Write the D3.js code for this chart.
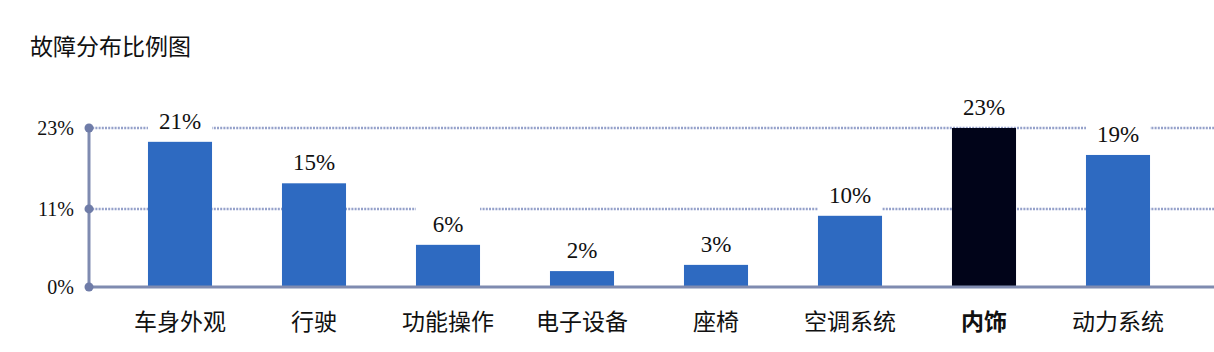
<!DOCTYPE html>
<html>
<head>
<meta charset="utf-8">
<script src="https://cdn.jsdelivr.net/npm/d3@7"></script>
<style>
  body { margin: 0; background: #fff; }
  text { font-family: "Liberation Serif", "Noto Sans CJK SC", serif; fill: #111; }
</style>
</head>
<body>
<svg id="chart"></svg>
<script>
const categories = ["车身外观", "行驶", "功能操作", "电子设备", "座椅", "空调系统", "内饰", "动力系统"];
const values = [21.0, 15.0, 6.1, 2.3, 3.2, 10.3, 23.0, 19.1];
const valueLabels = ["21%", "15%", "6%", "2%", "3%", "10%", "23%", "19%"];
const tickValues = [0, 11.3, 23.0];
const tickLabels = ["0%", "11%", "23%"];
const highlight = "内饰";

(function () {
    const width = 1214, height = 352;
    const svg = d3.select("#chart")
        .attr("width", width)
        .attr("height", height);

    const x = d3.scaleBand()
        .domain(categories)
        .range([113, 1185])
        .paddingInner(0.522)
        .paddingOuter(0.261);

    const y = d3.scaleLinear()
        .domain([0, 23])
        .range([287, 128]);

    const axisColor = "#7f8bb0";

    svg.append("text")
        .attr("x", 30)
        .attr("y", 55)
        .style("font-size", "23px")
        .text("故障分布比例图");

    // dotted grid lines
    svg.selectAll("line.grid")
        .data(tickValues.slice(1))
        .enter()
        .append("line")
        .attr("class", "grid")
        .attr("x1", 89)
        .attr("x2", width)
        .attr("y1", d => y(d))
        .attr("y2", d => y(d))
        .style("stroke", "#95a1ca")
        .style("stroke-width", 2.5)
        .style("stroke-dasharray", "2,1.2");

    // white boxes behind value labels cut the grid
    svg.selectAll("rect.lblbg")
        .data(categories)
        .enter()
        .append("rect")
        .attr("class", "lblbg")
        .attr("x", d => x(d))
        .attr("width", x.bandwidth())
        .attr("y", (d, i) => y(values[i]) - 38)
        .attr("height", 34)
        .style("fill", "#fff");

    svg.selectAll("rect.bar")
        .data(categories)
        .enter()
        .append("rect")
        .attr("class", "bar")
        .attr("x", d => x(d))
        .attr("width", x.bandwidth())
        .attr("y", (d, i) => y(values[i]))
        .attr("height", (d, i) => y(0) - y(values[i]))
        .style("fill", d => d === highlight ? "#010419" : "#2e6ac1");

    svg.selectAll("text.val")
        .data(categories)
        .enter()
        .append("text")
        .attr("class", "val")
        .attr("x", d => x(d) + x.bandwidth() / 2)
        .attr("y", (d, i) => y(values[i]) - 13)
        .attr("text-anchor", "middle")
        .style("font-size", "23px")
        .text((d, i) => valueLabels[i]);

    // axes
    svg.append("line")
        .attr("x1", 89).attr("x2", width)
        .attr("y1", y(0)).attr("y2", y(0))
        .style("stroke", axisColor)
        .style("stroke-width", 3);

    svg.append("line")
        .attr("x1", 89).attr("x2", 89)
        .attr("y1", y(23)).attr("y2", y(0))
        .style("stroke", axisColor)
        .style("stroke-width", 3);

    svg.selectAll("circle.tick")
        .data(tickValues)
        .enter()
        .append("circle")
        .attr("class", "tick")
        .attr("cx", 89)
        .attr("cy", d => y(d))
        .attr("r", 4.5)
        .style("fill", "#6f7ca8");

    svg.selectAll("text.ytick")
        .data(tickValues)
        .enter()
        .append("text")
        .attr("class", "ytick")
        .attr("x", 74)
        .attr("y", d => y(d) + 7)
        .attr("text-anchor", "end")
        .style("font-size", "20px")
        .text((d, i) => tickLabels[i]);

    svg.selectAll("text.cat")
        .data(categories)
        .enter()
        .append("text")
        .attr("class", "cat")
        .attr("x", d => x(d) + x.bandwidth() / 2)
        .attr("y", 330)
        .attr("text-anchor", "middle")
        .style("font-size", "23px")
        .style("font-weight", d => d === highlight ? "bold" : "normal")
        .text(d => d);
})();
</script>
</body>
</html>
